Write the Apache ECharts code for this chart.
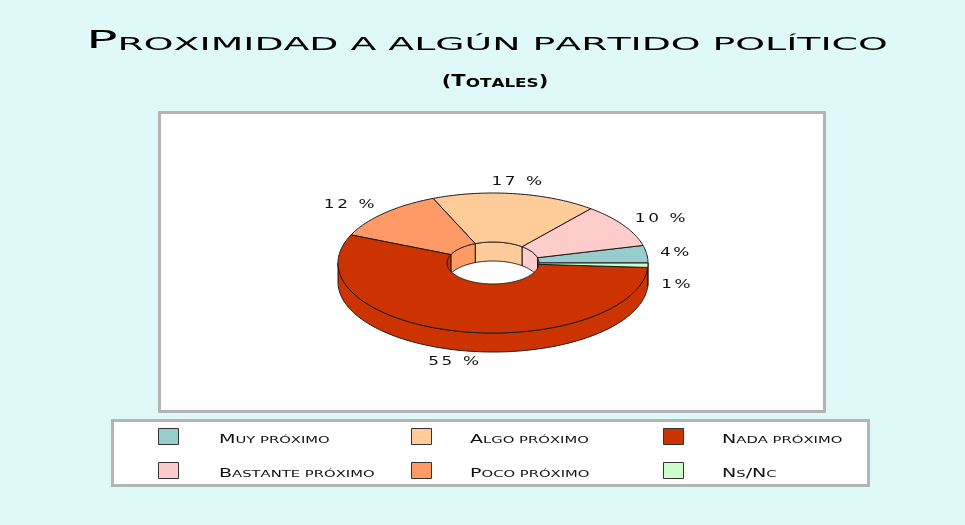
<!DOCTYPE html>
<html>
<head>
<meta charset="utf-8">
<script src="https://cdn.jsdelivr.net/npm/echarts@6/dist/echarts.min.js"></script>
<style>
html,body{margin:0;padding:0;background:#dff8f8;}
#main{width:965px;height:525px;}
</style>
</head>
<body>
<div id="main"></div>
<script>
// datos
var categories = ['Muy próximo', 'Bastante próximo', 'Algo próximo', 'Poco próximo', 'Nada próximo', 'Ns/Nc'];
var values = [4, 10, 17, 12, 55, 1];
var colors = ['#99cccc', '#ffcccc', '#ffcc99', '#ff9966', '#cc3300', '#ccffcc'];
var titleText = 'Proximidad a algún partido político';
var subtitleText = '(Totales)';

var FONT = 'DejaVu Sans';
var total = values.reduce(function (a, b) { return a + b; }, 0);

// geometria del donut 3D
var pie = { cx: 493, cy: 263, rx: 155, ry: 70, irx: 46, iry: 21, depth: 19 };

// texto en versalitas con tokens rich
function capsRich(str, big, small) {
    var out = '';
    for (var i = 0; i < str.length; i++) {
        var c = str.charAt(i);
        var up = c.toUpperCase();
        if (c === ' ') {
            out += '{' + small + '| }';
        } else if (c === up) {
            out += '{' + big + '|' + c + '}';
        } else {
            out += '{' + small + '|' + up + '}';
        }
    }
    return out;
}
function spaced(str, tok) {
    var out = '';
    for (var i = 0; i < str.length; i++) {
        out += '{' + tok + '|' + str.charAt(i) + '}';
    }
    return out;
}

function ellPt(a, rX, rY, dy) {
    return [pie.cx + rX * Math.cos(a), pie.cy - rY * Math.sin(a) + dy];
}
function arc(a1, a2, rX, rY, dy) {
    var pts = [];
    var n = Math.max(2, Math.ceil(Math.abs(a2 - a1) / (Math.PI / 180)));
    for (var k = 0; k <= n; k++) {
        pts.push(ellPt(a1 + (a2 - a1) * k / n, rX, rY, dy));
    }
    return pts;
}

var lineStyle = { stroke: '#1a1a1a', lineWidth: 1 };

function renderSlice(params, api) {
    var i = params.dataIndex;
    var before = 0;
    for (var k = 0; k < i; k++) before += values[k];
    var start = before / total * Math.PI * 2;
    var end = start + api.value(0) / total * Math.PI * 2;
    var color = colors[i];
    var children = [];

    // pared exterior (mitad delantera)
    var s = Math.max(start, Math.PI), e = Math.min(end, Math.PI * 2);
    if (e > s) {
        children.push({
            type: 'polygon', z2: 1,
            shape: { points: arc(s, e, pie.rx, pie.ry, 0).concat(arc(e, s, pie.rx, pie.ry, pie.depth)) },
            style: { fill: color, stroke: lineStyle.stroke, lineWidth: lineStyle.lineWidth }
        });
    }
    // pared interior (mitad trasera del agujero)
    s = Math.max(start, 0); e = Math.min(end, Math.PI);
    if (e > s) {
        children.push({
            type: 'polygon', z2: 1,
            shape: { points: arc(s, e, pie.irx, pie.iry, 0).concat(arc(e, s, pie.irx, pie.iry, pie.depth)) },
            style: { fill: color, stroke: lineStyle.stroke, lineWidth: lineStyle.lineWidth }
        });
    }
    // cara superior
    children.push({
        type: 'polygon', z2: 5,
        shape: { points: arc(start, end, pie.rx, pie.ry, 0).concat(arc(end, start, pie.irx, pie.iry, 0)) },
        style: { fill: color, stroke: lineStyle.stroke, lineWidth: lineStyle.lineWidth }
    });

    // etiqueta
    var mid = (start + end) / 2;
    var c = Math.cos(mid), sn = Math.sin(mid);
    var lx = pie.cx + (pie.rx + 12) * c;
    var ly = pie.cy - (pie.ry + 12) * sn + (sn < 0 ? pie.depth : 0);
    var align = c > 0.3 ? 'left' : (c < -0.3 ? 'right' : 'center');
    var v = api.value(0);
    var txt = v + (v >= 10 ? ' %' : '%');
    children.push({
        type: 'text', z2: 6,
        x: lx, y: ly, scaleX: 1.3,
        style: {
            text: spaced(txt, 'p'),
            align: align, verticalAlign: 'middle',
            textAlign: align, textVerticalAlign: 'middle',
            rich: { p: { fontFamily: FONT, fontSize: 13, fill: '#111', color: '#111', padding: [0, 1] } }
        }
    });
    return { type: 'group', children: children };
}

// leyenda dibujada
function legendGraphics() {
    var els = [];
    var iconX = [158, 411, 663];
    var textX = [219, 470, 722];
    var iconY = [428, 462];
    for (var i = 0; i < categories.length; i++) {
        var col = Math.floor(i / 2), row = i % 2;
        els.push({
            type: 'rect', z: 1,
            shape: { x: iconX[col] + 0.5, y: iconY[row] + 0.5, width: 20, height: 16 },
            style: { fill: colors[i], stroke: '#333', lineWidth: 1 }
        });
        els.push({
            type: 'text', z: 1,
            x: textX[col], y: iconY[row] + 11.5, scaleX: 1.59,
            style: {
                text: capsRich(categories[i], 'b', 's'),
                align: 'left', verticalAlign: 'middle',
                textAlign: 'left', textVerticalAlign: 'middle',
                rich: {
                    b: { fontFamily: FONT, fontSize: 12, lineHeight: 12, verticalAlign: 'bottom', fill: '#111', color: '#111' },
                    s: { fontFamily: FONT, fontSize: 9.3, lineHeight: 9.3, verticalAlign: 'bottom', fill: '#111', color: '#111' }
                }
            }
        });
    }
    return els;
}

var graphics = [
    {
        type: 'rect', z: 0,
        shape: { x: 159.5, y: 112.5, width: 665, height: 299 },
        style: { fill: '#ffffff', stroke: '#b4b4b4', lineWidth: 3 }
    },
    {
        type: 'rect', z: 0,
        shape: { x: 112.5, y: 420.5, width: 756, height: 65 },
        style: { fill: '#ffffff', stroke: '#b4b4b4', lineWidth: 3 }
    },
    {
        type: 'text', z: 1,
        x: 487, y: 42, scaleX: 2.1,
        style: {
            text: capsRich(titleText, 'b', 's'),
            align: 'center', verticalAlign: 'middle',
            textAlign: 'center', textVerticalAlign: 'middle',
            rich: {
                b: { fontFamily: FONT, fontSize: 24.7, lineHeight: 25, verticalAlign: 'bottom', fill: '#000', color: '#000' },
                s: { fontFamily: FONT, fontSize: 18, lineHeight: 18, verticalAlign: 'bottom', fill: '#000', color: '#000' }
            }
        }
    },
    {
        type: 'text', z: 1,
        x: 495, y: 82, scaleX: 1.4,
        style: {
            text: capsRich(subtitleText, 'b', 's'),
            align: 'center', verticalAlign: 'middle',
            textAlign: 'center', textVerticalAlign: 'middle',
            rich: {
                b: { fontFamily: FONT, fontSize: 15, lineHeight: 15, fontWeight: 'bold', verticalAlign: 'bottom', fill: '#000', color: '#000' },
                s: { fontFamily: FONT, fontSize: 12, lineHeight: 12, fontWeight: 'bold', verticalAlign: 'bottom', fill: '#000', color: '#000' }
            }
        }
    }
].concat(legendGraphics());

var myChart = echarts.init(document.getElementById('main'));
var option = {
    backgroundColor: '#dff8f8',
    animation: false,
    graphic: { elements: graphics },
    series: [{
        type: 'custom',
        coordinateSystem: 'none',
        z: 5,
        renderItem: renderSlice,
        data: values.map(function (v, i) { return { name: categories[i], value: v }; })
    }]
};
myChart.setOption(option);
</script>
</body>
</html>
